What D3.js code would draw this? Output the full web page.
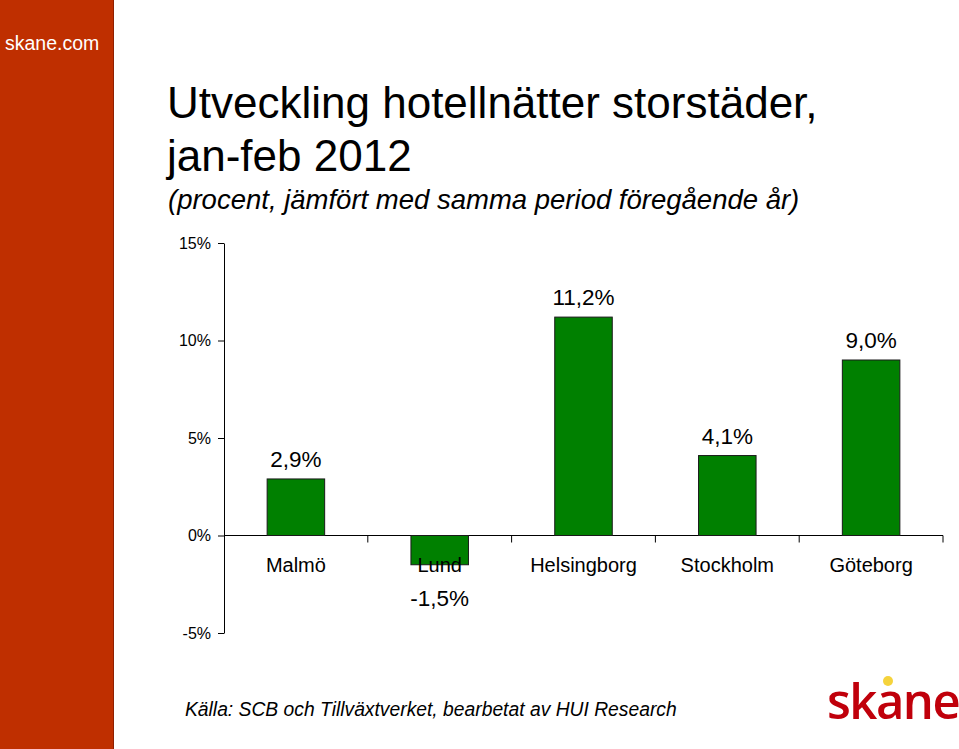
<!DOCTYPE html>
<html>
<head>
<meta charset="utf-8">
<script src="https://cdn.jsdelivr.net/npm/d3@7"></script>
<style>
  html, body { margin: 0; padding: 0; background: #fff; }
  svg { display: block; font-family: "Liberation Sans", Arial, sans-serif; }
</style>
</head>
<body>
<div id="chart"></div>
<script>
// ── Data ────────────────────────────────────────────────
const cities  = ['Malmö', 'Lund', 'Helsingborg', 'Stockholm', 'Göteborg'];
const changes = [2.9, -1.5, 11.2, 4.1, 9.0];
const yTicks  = [-5, 0, 5, 10, 15];

const W = 959, H = 749;
const svg = d3.select('#chart').append('svg')
  .attr('width', W).attr('height', H);

// ── Sidebar ─────────────────────────────────────────────
svg.append('rect')
  .attr('x', 0).attr('y', 0).attr('width', 114).attr('height', H)
  .attr('fill', '#bf2f00');
svg.append('line')
  .attr('x1', 113.5).attr('x2', 113.5).attr('y1', 0).attr('y2', H)
  .attr('stroke', '#8f1f00').attr('stroke-width', 1);
svg.append('text')
  .attr('x', 5).attr('y', 50)
  .attr('font-size', 19.5).attr('fill', '#fff')
  .text('skane.com');

// ── Titles ──────────────────────────────────────────────
svg.append('text')
  .attr('x', 167).attr('y', 118)
  .attr('font-size', 44).attr('fill', '#000')
  .text('Utveckling hotellnätter storstäder,');
svg.append('text')
  .attr('x', 167).attr('y', 171)
  .attr('font-size', 44).attr('fill', '#000')
  .text('jan-feb 2012');
svg.append('text')
  .attr('x', 168).attr('y', 209)
  .attr('font-size', 27.5).attr('font-style', 'italic').attr('fill', '#000')
  .text('(procent, jämfört med samma period föregående år)');

// ── Scales ──────────────────────────────────────────────
const x = d3.scaleBand()
  .domain(cities).range([224, 943]).paddingInner(0.6).paddingOuter(0.3);
const y = d3.scaleLinear().domain([-5, 15]).range([633, 243]);

// y axis
const yAxis = svg.append('g')
  .attr('transform', 'translate(224,0)')
  .call(d3.axisLeft(y).tickValues(yTicks).tickSize(6).tickSizeOuter(0)
    .tickFormat(d => d + '%'));
yAxis.select('.domain').attr('stroke', '#000');
yAxis.selectAll('.tick line').attr('stroke', '#000');
yAxis.selectAll('.tick text')
  .attr('font-size', 16).attr('font-family', '"Liberation Sans", Arial, sans-serif')
  .attr('fill', '#000').attr('x', -13);

// zero line with category boundary ticks
svg.append('line')
  .attr('x1', 224).attr('x2', 943)
  .attr('y1', y(0)).attr('y2', y(0))
  .attr('stroke', '#000');
const bounds = d3.range(cities.length + 1).map(i => 224 + i * (943 - 224) / cities.length);
svg.selectAll('line.cat-tick')
  .data(bounds.slice(1))
  .join('line').attr('class', 'cat-tick')
  .attr('x1', d => d).attr('x2', d => d)
  .attr('y1', y(0)).attr('y2', y(0) + 7)
  .attr('stroke', '#000');

// ── Bars ────────────────────────────────────────────────
const data = cities.map((c, i) => ({ city: c, v: changes[i] }));

svg.selectAll('rect.bar')
  .data(data)
  .join('rect').attr('class', 'bar')
  .attr('x', d => x(d.city))
  .attr('width', x.bandwidth())
  .attr('y', d => y(Math.max(0, d.v)))
  .attr('height', d => Math.abs(y(d.v) - y(0)))
  .attr('fill', '#008000')
  .attr('stroke', '#1a1a1a').attr('stroke-width', 1);

// category labels
svg.selectAll('text.cat')
  .data(data)
  .join('text').attr('class', 'cat')
  .attr('x', d => x(d.city) + x.bandwidth() / 2)
  .attr('y', 572)
  .attr('text-anchor', 'middle')
  .attr('font-size', 20).attr('fill', '#000')
  .text(d => d.city);

// value labels
const fmtPct = v => v.toFixed(1).replace('.', ',') + '%';
svg.selectAll('text.val')
  .data(data)
  .join('text').attr('class', 'val')
  .attr('x', d => x(d.city) + x.bandwidth() / 2)
  .attr('y', d => d.v >= 0 ? y(d.v) - 12 : y(d.v) + 41)
  .attr('text-anchor', 'middle')
  .attr('font-size', 22.5).attr('fill', '#000')
  .text(d => fmtPct(d.v));

// ── Source ──────────────────────────────────────────────
svg.append('text')
  .attr('x', 185).attr('y', 716)
  .attr('font-size', 19.3).attr('font-style', 'italic').attr('fill', '#000')
  .text('Källa: SCB och Tillväxtverket, bearbetat av HUI Research');

// ── Logo ────────────────────────────────────────────────
svg.append('text')
  .attr('x', 827).attr('y', 719)
  .attr('font-size', 49).attr('font-weight', 600).attr('fill', '#c0000b')
  .attr('font-family', '"Open Sans", "DejaVu Sans", sans-serif')
  .attr('letter-spacing', -1.5)
  .text('skane');
svg.append('circle')
  .attr('cx', 888).attr('cy', 681).attr('r', 5)
  .attr('fill', '#f5d33c');
</script>
</body>
</html>
